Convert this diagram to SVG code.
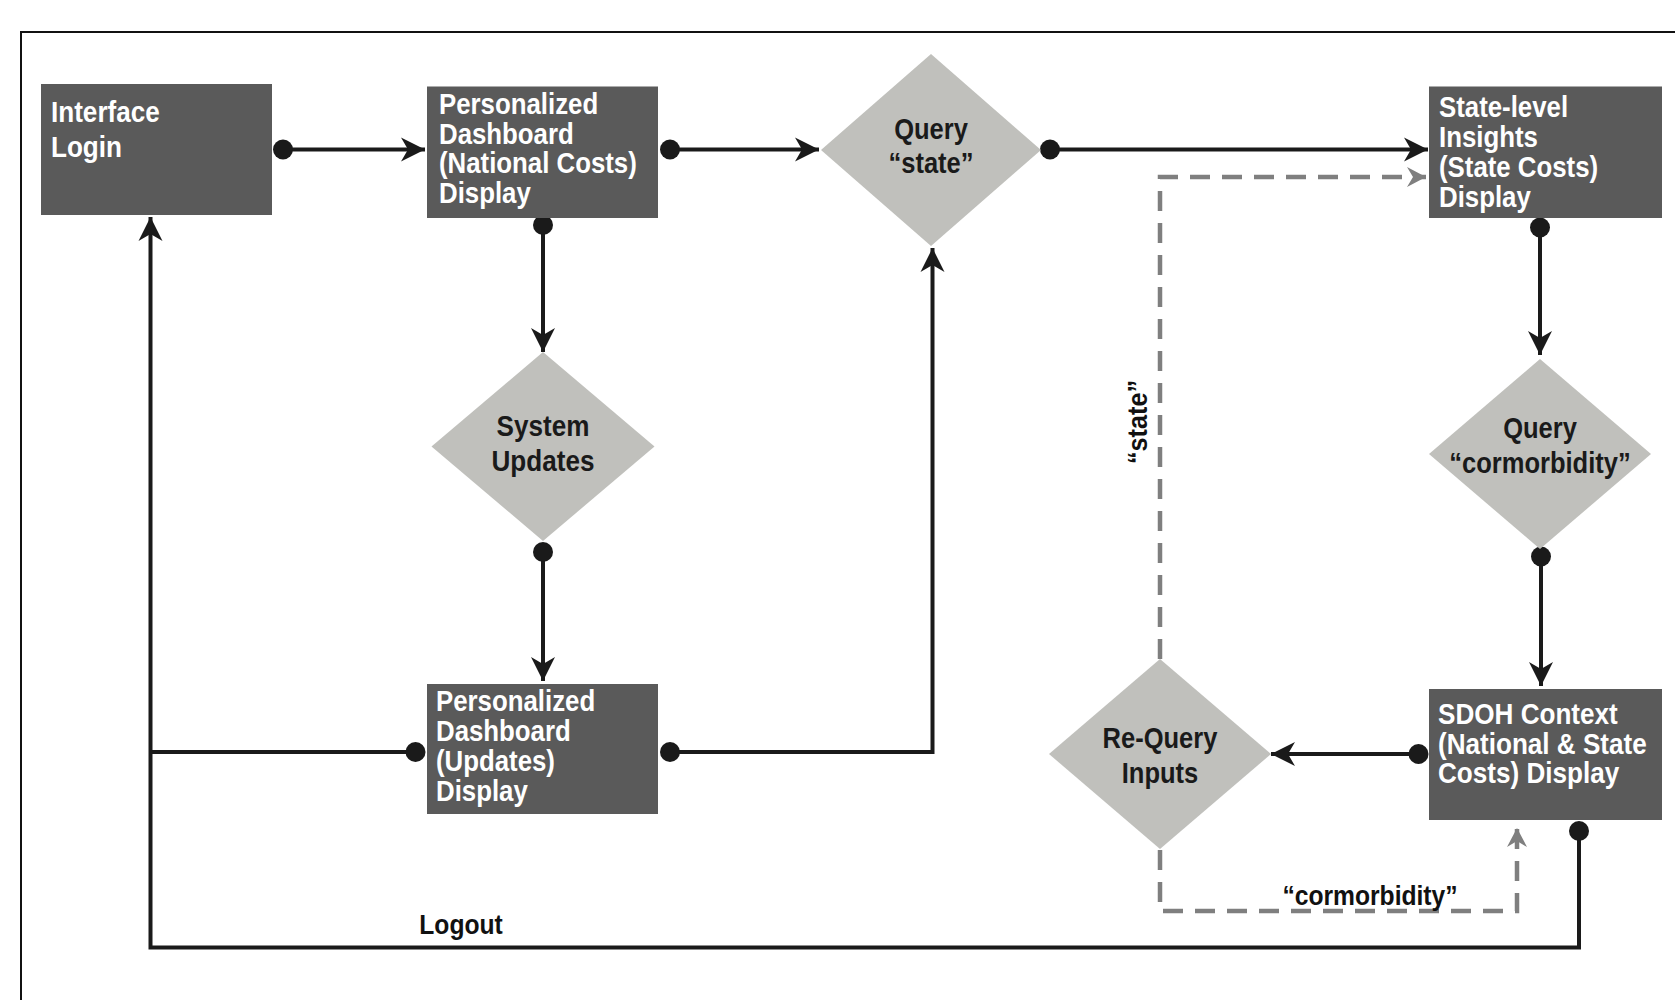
<svg xmlns="http://www.w3.org/2000/svg" width="1675" height="1000" viewBox="0 0 1675 1000">
<defs>
<style>
.box{fill:#5a5a5a;}
.dia{fill:#c0c0bc;}
.bt{font-family:"Liberation Sans",Arial,sans-serif;font-weight:bold;font-size:29px;fill:#ffffff;}
.dt{font-family:"Liberation Sans",Arial,sans-serif;font-weight:bold;font-size:29px;fill:#1a1a1a;text-anchor:middle;}
.lt{font-family:"Liberation Sans",Arial,sans-serif;font-weight:bold;font-size:28px;fill:#111111;text-anchor:middle;}
.ln{fill:none;stroke:#1a1a1a;stroke-width:4;}
.dash{fill:none;stroke:#7f7f7f;stroke-width:4.5;stroke-dasharray:20 12;}
.dot{fill:#1a1a1a;}
</style>
<marker id="ah" markerWidth="28" markerHeight="28" viewBox="-26 -14 28 28" refX="0" refY="0" orient="auto" markerUnits="userSpaceOnUse">
<path d="M0,0 L-24,-12 L-17,0 L-24,12 Z" fill="#1a1a1a"/>
</marker>
<marker id="ahg" markerWidth="24" markerHeight="24" viewBox="-22 -12 24 24" refX="0" refY="0" orient="auto" markerUnits="userSpaceOnUse">
<path d="M0,0 L-19,-10 L-13,0 L-19,10 Z" fill="#7f7f7f"/>
</marker>
</defs>
<rect width="1675" height="1000" fill="#ffffff"/>
<path d="M21,1000 L21,32 L1675,32" fill="none" stroke="#111111" stroke-width="2"/>

<g id="connectors">
<path class="ln" d="M283,149.5 L425,149.5" marker-end="url(#ah)"/>
<circle class="dot" cx="283" cy="149.5" r="10"/>
<path class="ln" d="M670,149.5 L819,149.5" marker-end="url(#ah)"/>
<circle class="dot" cx="670" cy="149.5" r="10"/>
<path class="ln" d="M1050,149.5 L1428,149.5" marker-end="url(#ah)"/>
<circle class="dot" cx="1050" cy="149.5" r="10"/>
<path class="ln" d="M543,225 L543,352" marker-end="url(#ah)"/>
<circle class="dot" cx="543" cy="225" r="10"/>
<path class="ln" d="M543,552 L543,681" marker-end="url(#ah)"/>
<circle class="dot" cx="543" cy="552" r="10"/>
<path class="ln" d="M670,752 L932.5,752 L932.5,248" marker-end="url(#ah)"/>
<circle class="dot" cx="670" cy="752" r="10"/>
<path class="ln" d="M415.5,752 L150.5,752"/>
<circle class="dot" cx="415.5" cy="752" r="10"/>
<path class="ln" d="M1579,831 L1579,947.5 L150.5,947.5 L150.5,217" marker-end="url(#ah)"/>
<circle class="dot" cx="1579" cy="831" r="10"/>
<path class="ln" d="M1540,227.5 L1540,355" marker-end="url(#ah)"/>
<circle class="dot" cx="1540" cy="227.5" r="10"/>
<path class="ln" d="M1541,556.5 L1541,686" marker-end="url(#ah)"/>
<circle class="dot" cx="1541" cy="556.5" r="10"/>
<path class="ln" d="M1418.5,754 L1271,754" marker-end="url(#ah)"/>
<circle class="dot" cx="1418.5" cy="754" r="10"/>
<path class="dash" d="M1160,659 L1160,177 L1426,177" marker-end="url(#ahg)"/>
<path class="dash" d="M1160,850 L1160,911 L1517,911 L1517,828" marker-end="url(#ahg)"/>
<text class="lt" transform="translate(461,934) scale(0.88,1)">Logout</text>
<text class="lt" transform="translate(1147,422) rotate(-90) scale(0.9,1)">“state”</text>
<text class="lt" transform="translate(1370,905) scale(0.88,1)">“cormorbidity”</text>
</g>

<g id="interface-login">
<rect class="box" x="41" y="84" width="231" height="131"/>
<text class="bt" transform="translate(51,122) scale(0.9,1)">Interface</text>
<text class="bt" transform="translate(51,157) scale(0.9,1)">Login</text>
</g>
<g id="pd-national">
<rect class="box" x="427" y="86.5" width="231" height="131.5"/>
<text class="bt" transform="translate(439,114) scale(0.89,1)">Personalized</text>
<text class="bt" transform="translate(439,144) scale(0.89,1)">Dashboard</text>
<text class="bt" transform="translate(439,173) scale(0.89,1)">(National Costs)</text>
<text class="bt" transform="translate(439,203) scale(0.89,1)">Display</text>
</g>
<g id="query-state">
<polygon class="dia" points="931,54 1041,150 931,246 821,150"/>
<text class="dt" transform="translate(931,139) scale(0.88,1)">Query</text>
<text class="dt" transform="translate(931,173) scale(0.88,1)">“state”</text>
</g>
<g id="state-level">
<rect class="box" x="1429" y="86.5" width="233" height="131.5"/>
<text class="bt" transform="translate(1439,117) scale(0.89,1)">State-level</text>
<text class="bt" transform="translate(1439,147) scale(0.89,1)">Insights</text>
<text class="bt" transform="translate(1439,177) scale(0.89,1)">(State Costs)</text>
<text class="bt" transform="translate(1439,207) scale(0.89,1)">Display</text>
</g>
<g id="system-updates">
<polygon class="dia" points="543,352 654.5,446.5 543,541 431.5,446.5"/>
<text class="dt" transform="translate(543,436) scale(0.9,1)">System</text>
<text class="dt" transform="translate(543,471) scale(0.9,1)">Updates</text>
</g>
<g id="pd-updates">
<rect class="box" x="427" y="684" width="231" height="130"/>
<text class="bt" transform="translate(436,711) scale(0.89,1)">Personalized</text>
<text class="bt" transform="translate(436,741) scale(0.89,1)">Dashboard</text>
<text class="bt" transform="translate(436,771) scale(0.89,1)">(Updates)</text>
<text class="bt" transform="translate(436,801) scale(0.89,1)">Display</text>
</g>
<g id="query-cormorbidity">
<polygon class="dia" points="1540,359 1651,454 1540,549 1429,454"/>
<text class="dt" transform="translate(1540,438) scale(0.88,1)">Query</text>
<text class="dt" transform="translate(1540,473) scale(0.88,1)">“cormorbidity”</text>
</g>
<g id="sdoh">
<rect class="box" x="1429" y="689" width="233" height="131"/>
<text class="bt" transform="translate(1438,724) scale(0.9,1)">SDOH Context</text>
<text class="bt" transform="translate(1438,754) scale(0.9,1)">(National &amp; State</text>
<text class="bt" transform="translate(1438,783) scale(0.9,1)">Costs) Display</text>
</g>
<g id="re-query">
<polygon class="dia" points="1160,659 1271,754 1160,849 1049,754"/>
<text class="dt" transform="translate(1160,748) scale(0.88,1)">Re-Query</text>
<text class="dt" transform="translate(1160,783) scale(0.88,1)">Inputs</text>
</g>
</svg>
